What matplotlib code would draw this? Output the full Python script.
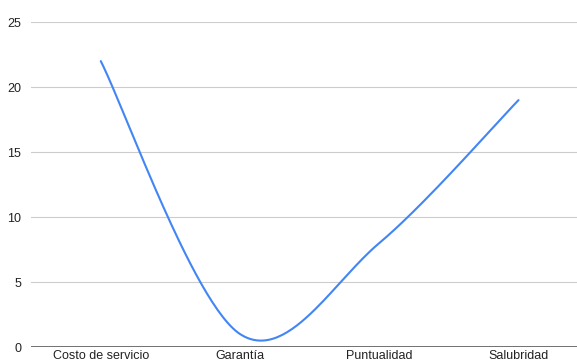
import numpy as np
import matplotlib.pyplot as plt

plt.rcParams['font.family'] = ['Liberation Sans', 'DejaVu Sans']

categorias = ['Costo de servicio', 'Garantía', 'Puntualidad', 'Salubridad']
valores = [22, 1, 8, 19]
y_ticks = [0, 5, 10, 15, 20, 25]


def curva_suave(xs, ys, n=60):
    # spline tipo Catmull-Rom con segmentos Bezier (extremos sin tangente)
    xs = np.asarray(xs, float)
    ys = np.asarray(ys, float)
    pts = np.column_stack([xs, ys])
    out = []
    for i in range(len(pts) - 1):
        p0, p3 = pts[i], pts[i + 1]
        prev = pts[i - 1] if i > 0 else pts[i]
        nxt = pts[i + 2] if i + 2 < len(pts) else pts[i + 1]
        c1 = p0 + (p3 - prev) / 6
        c2 = p3 - (nxt - p0) / 6
        t = np.linspace(0, 1, n)[:, None]
        seg = ((1 - t) ** 3) * p0 + 3 * ((1 - t) ** 2) * t * c1 + 3 * (1 - t) * t ** 2 * c2 + t ** 3 * p3
        out.append(seg if i == 0 else seg[1:])
    seg = np.vstack(out)
    return seg[:, 0], seg[:, 1]


fig = plt.figure(figsize=(5.77, 3.63), dpi=100)
ax = fig.add_axes([0.054, 0.044, 0.946, 0.895])

x = np.arange(len(categorias))
cx, cy = curva_suave(x, valores)
ax.plot(cx, cy, color='#4285F4', linewidth=1.5, solid_capstyle='round', zorder=3)

ax.set_xlim(-0.5, 3.42)
ax.set_ylim(0, 25)
ax.set_yticks(y_ticks)
ax.set_xticks(x)
ax.set_xticklabels(categorias)
ax.grid(axis='y', color='#cccccc', linewidth=0.8)
ax.axhline(0, color='#666666', linewidth=1.3, zorder=2)
for s in ax.spines.values():
    s.set_visible(False)
ax.tick_params(axis='both', length=0, labelsize=9, colors='#222222')
ax.tick_params(axis='y', pad=7)
ax.tick_params(axis='x', pad=2)

fig.savefig('out.png', dpi=100)
